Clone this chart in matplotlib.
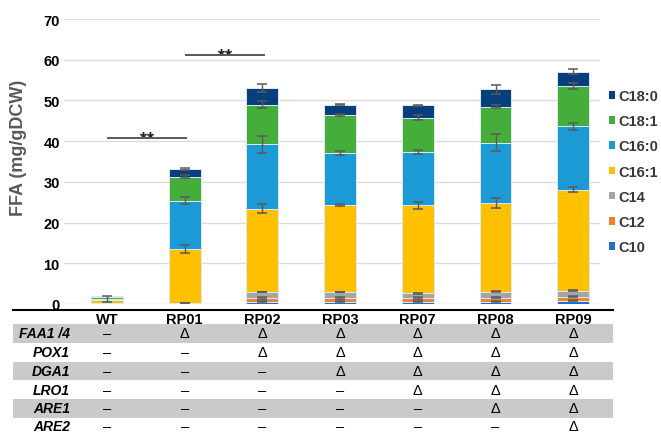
import matplotlib
matplotlib.use('Agg')
import matplotlib.pyplot as plt
from matplotlib.patches import Patch
import numpy as np

plt.rcParams['font.family'] = ['Liberation Sans', 'DejaVu Sans']

# ---------------- data ----------------
strains = ['WT', 'RP01', 'RP02', 'RP03', 'RP07', 'RP08', 'RP09']
components = ['C10', 'C12', 'C14', 'C16:1', 'C16:0', 'C18:1', 'C18:0']

c10 = [0.05, 0.05, 0.5, 0.5, 0.6, 0.6, 0.8]
c12 = [0.05, 0.05, 1.0, 1.0, 0.9, 0.9, 1.0]
c14 = [0.1, 0.2, 1.5, 1.5, 1.1, 1.5, 1.5]
c16_1 = [0.7, 13.3, 20.4, 21.3, 21.6, 21.9, 24.8]
c16_0 = [0.35, 11.8, 15.8, 12.8, 13.1, 14.7, 15.6]
c18_1 = [0.4, 5.9, 9.8, 9.3, 8.5, 8.9, 9.8]
c18_0 = [0.25, 1.8, 4.0, 2.6, 3.0, 4.2, 3.6]

err_c10 = [0.0, 0.0, 0.12, 0.12, 0.12, 0.12, 0.12]
err_c12 = [0.0, 0.0, 0.15, 0.15, 0.15, 0.1, 0.15]
err_c14 = [0.0, 0.05, 0.05, 0.05, 0.05, 0.1, 0.05]
err_c16_1 = [0.0, 1.0, 1.05, 0.2, 0.85, 1.25, 0.55]
err_c16_0 = [0.8, 0.8, 2.0, 0.5, 0.5, 2.1, 0.85]
err_c18_1 = [0.0, 0.4, 0.9, 0.3, 0.5, 0.45, 0.8]
err_c18_0 = [0.0, 0.3, 0.95, 0.2, 0.2, 1.07, 0.7]

colors = ['#1F70C8', '#F5812B', '#A5A5A5', '#FFC000', '#1B9AD6', '#45AD3A', '#063F7C']

sig_pairs = [(0, 1), (1, 2)]
sig_heights = [40.8, 61.2]
sig_labels = ['**', '**']

gene_rows = ['FAA1 /4', 'POX1', 'DGA1', 'LRO1', 'ARE1', 'ARE2']
gene_status = [
    ['–', 'Δ', 'Δ', 'Δ', 'Δ', 'Δ', 'Δ'],
    ['–', '–', 'Δ', 'Δ', 'Δ', 'Δ', 'Δ'],
    ['–', '–', '–', 'Δ', 'Δ', 'Δ', 'Δ'],
    ['–', '–', '–', '–', 'Δ', 'Δ', 'Δ'],
    ['–', '–', '–', '–', '–', 'Δ', 'Δ'],
    ['–', '–', '–', '–', '–', '–', 'Δ'],
]

values = [c10, c12, c14, c16_1, c16_0, c18_1, c18_0]
errors = [err_c10, err_c12, err_c14, err_c16_1, err_c16_0, err_c18_1, err_c18_0]

# ---------------- figure ----------------
W, H = 661, 435
fig = plt.figure(figsize=(W / 100, H / 100), dpi=100)
ax = fig.add_axes([64 / W, (H - 305) / H, 536 / W, 285 / H])

x = np.arange(len(strains))
px0, pstep = 107.0, 77.7
ax.set_xlim((64 - px0) / pstep, (600 - px0) / pstep)
ax.set_ylim(0, 70)

bottom = np.zeros(len(strains))
for vals, errs, col, name in zip(values, errors, colors, components):
    v = np.array(vals)
    ax.bar(x, v, width=0.41, bottom=bottom, color=col, edgecolor='#DCE9F5',
           linewidth=0.7, zorder=2, label=name)
    top = bottom + v
    e = np.array(errs)
    m = e > 0
    ax.errorbar(x[m], top[m], yerr=e[m], fmt='none', ecolor='#5A5A5A',
                elinewidth=1.0, capsize=3.5, capthick=1.1, zorder=3)
    bottom = top

# significance
for (a, b), hgt, lab in zip(sig_pairs, sig_heights, sig_labels):
    ax.plot([a + 0.013, b + 0.017], [hgt, hgt], color='#595959', lw=1.4,
            clip_on=False, zorder=4)
    ax.text((a + b) / 2 + 0.015, hgt - 1.4, lab, ha='center', va='baseline',
            fontsize=13, fontweight='bold', color='#222222')

ax.set_yticks(np.arange(0, 71, 10))
ax.yaxis.grid(True, color='#DCDCDC', lw=1.0)
ax.set_axisbelow(True)
ax.set_xticks([])
for s in ax.spines.values():
    s.set_visible(False)
ax.tick_params(axis='y', length=0, pad=3, labelsize=10.5)
for lbl in ax.get_yticklabels():
    lbl.set_fontweight('bold')

ax.set_ylabel('FFA (mg/gDCW)', fontsize=13, fontweight='bold', color='#595959')
ax.yaxis.set_label_coords(-0.069, 0.553)

# legend
handles = [Patch(facecolor=c, edgecolor='none', label=n) for c, n in zip(colors, components)]
leg = fig.legend(handles=handles[::-1], loc='upper left',
                 bbox_to_anchor=(609 / W, (H - 90) / H), frameon=False,
                 borderpad=0, borderaxespad=0, handlelength=0.42, handleheight=0.42,
                 handletextpad=0.25, labelspacing=0.77,
                 prop={'weight': 'bold', 'size': 10.5})
for t in leg.get_texts():
    t.set_color('#383838')

# table
tax = fig.add_axes([13 / W, 0, 600 / W, 125 / H])
tax.set_xlim((13 - px0) / pstep, (613 - px0) / pstep)
tax.set_ylim(435, 310)
tax.axis('off')
tax.axhline(310.7, color='black', lw=1.5, clip_on=False)
for y0, y1 in [(325, 343.5), (362.5, 381), (400, 418.5)]:
    tax.axhspan(y0, y1, color='#CACACA', lw=0, zorder=0)

for i, s in enumerate(strains):
    tax.text(i, 319.5, s, ha='center', va='center', fontsize=10.5, fontweight='bold')

row_y = [334, 353, 372, 391, 409, 427]
for name, ry, stat in zip(gene_rows, row_y, gene_status):
    tax.text((70 - px0) / pstep, ry, name, ha='right', va='center', fontsize=10,
             fontweight='bold', style='italic')
    for i, sym in enumerate(stat):
        tax.text(i, ry, sym, ha='center', va='center', fontsize=10.5)

fig.savefig('out.png', dpi=100)
